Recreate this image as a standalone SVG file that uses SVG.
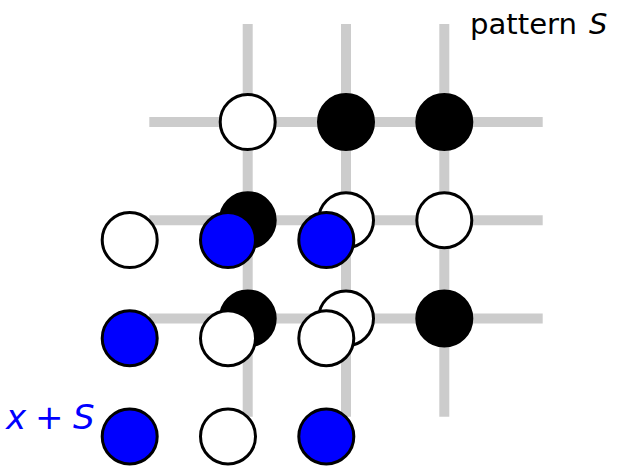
<svg xmlns="http://www.w3.org/2000/svg" width="618" height="466" viewBox="0 0 618 466">
<style>
.grid line{stroke:#cccccc;stroke-width:10}
.w{fill:#ffffff;stroke:#000;stroke-width:3}
.b{fill:#000000;stroke:#000;stroke-width:3}
.u{fill:#0000ff;stroke:#000;stroke-width:3}
.t{font-family:"DejaVu Sans","Liberation Sans",sans-serif}
</style>
<rect width="618" height="466" fill="#ffffff"/>
<g id="connectors" class="grid">
<line x1="247.7" y1="24" x2="247.7" y2="416.7"/>
<line x1="346" y1="24" x2="346" y2="416.7"/>
<line x1="444.3" y1="24" x2="444.3" y2="416.7"/>
<line x1="149.3" y1="122" x2="542.7" y2="122"/>
<line x1="149.3" y1="220.2" x2="542.7" y2="220.2"/>
<line x1="149.3" y1="318.4" x2="542.7" y2="318.4"/>
</g>
<g id="pattern">
<circle id="s11" class="w" cx="247.7" cy="122" r="27.5"/>
<circle id="s12" class="b" cx="346" cy="122" r="27.5"/>
<circle id="s13" class="b" cx="444.3" cy="122" r="27.5"/>
<circle id="s21" class="b" cx="247.7" cy="220.2" r="27.5"/>
<circle id="s22" class="w" cx="346" cy="220.2" r="27.5"/>
<circle id="s23" class="w" cx="444.3" cy="220.2" r="27.5"/>
<circle id="s31" class="b" cx="247.7" cy="318.4" r="27.5"/>
<circle id="s32" class="w" cx="346" cy="318.4" r="27.5"/>
<circle id="s33" class="b" cx="444.3" cy="318.4" r="27.5"/>
</g>
<g id="shifted">
<circle id="x11" class="w" cx="129.7" cy="240" r="27.5"/>
<circle id="x12" class="u" cx="228" cy="240" r="27.5"/>
<circle id="x13" class="u" cx="326.3" cy="240" r="27.5"/>
<circle id="x21" class="u" cx="129.7" cy="338.2" r="27.5"/>
<circle id="x22" class="w" cx="228" cy="338.2" r="27.5"/>
<circle id="x23" class="w" cx="326.3" cy="338.2" r="27.5"/>
<circle id="x31" class="u" cx="129.7" cy="436.4" r="27.5"/>
<circle id="x32" class="w" cx="228" cy="436.4" r="27.5"/>
<circle id="x33" class="u" cx="326.3" cy="436.4" r="27.5"/>
</g>
<g id="label-pattern" class="t" font-size="28" fill="#000">
<text x="470" y="33.5" textLength="107" lengthAdjust="spacingAndGlyphs">pattern</text>
<text x="589" y="33.5" font-style="italic" font-size="29">S</text>
</g>
<g id="label-shift" class="t" font-size="34" fill="#0000ff">
<text x="6" y="428.5" font-style="italic">x</text>
<text x="35" y="428.5">+</text>
<text x="73" y="428.5" font-style="italic">S</text>
</g>
</svg>
